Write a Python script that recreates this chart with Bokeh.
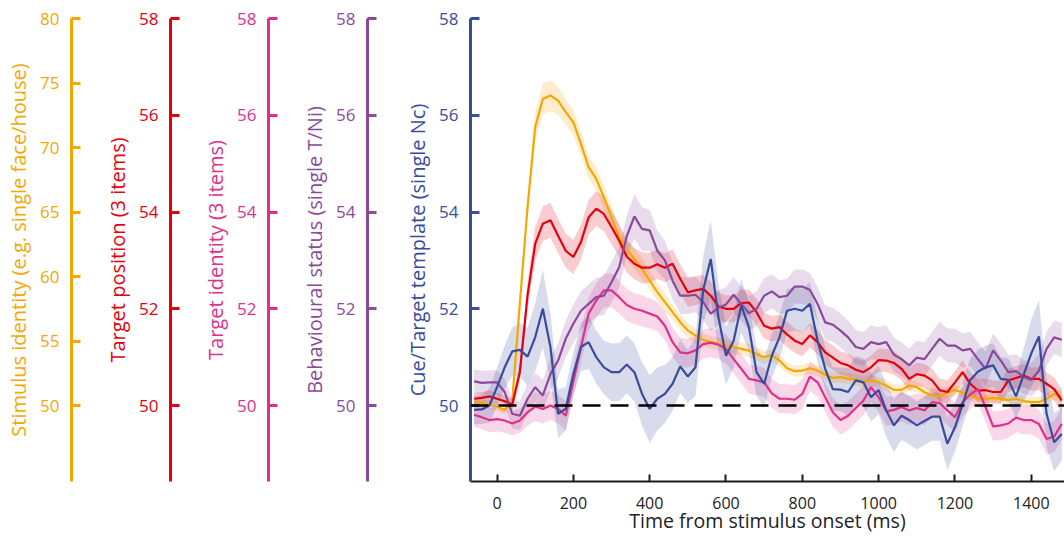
from bokeh.plotting import figure
from bokeh.models import LinearAxis, Range1d, FixedTicker, Span
from bokeh.embed import file_html
from bokeh.resources import INLINE

# ---------------- data ----------------
time_ms = list(range(-60, 1500, 20))

stim_identity = [50.26, 50.18, 50.08, 49.92, 49.66, 50.39, 58.0, 65.37, 71.58, 73.77, 74.03, 73.64, 72.74, 71.96, 70.28, 68.48, 67.57, 66.15, 64.6, 63.05, 62.1,
                 61.37, 60.59, 59.69, 58.79, 58.01, 57.24, 56.46, 55.81, 55.43, 55.09, 54.91, 54.78, 54.65, 54.52, 54.39, 54.26, 54.0, 53.75,
                 53.9, 53.49, 52.89, 52.66, 52.71, 52.89, 52.71, 52.38, 52.14, 52.2, 52.07, 51.99, 51.81, 51.94, 51.81, 51.55, 51.21, 51.21, 51.55,
                 51.42, 51.03, 50.78, 50.72, 51.0, 51.21, 51.0, 50.78, 50.54, 50.52, 50.59, 50.52, 50.44, 50.52, 50.34, 50.26, 50.26, 50.52, 50.9, 50.65]
stim_sem = [0.3, 0.3, 0.3, 0.3, 0.3, 0.4, 0.7, 0.9, 1.1, 1.2, 1.2, 1.1, 1.0, 1.0, 0.9, 0.9, 0.9, 0.9, 0.8, 0.8, 0.8,
            0.8, 0.8, 0.7, 0.7, 0.7, 0.6, 0.6, 0.6, 0.6, 0.5, 0.5, 0.5, 0.5, 0.5, 0.5, 0.5, 0.5, 0.5,
            0.45, 0.45, 0.45, 0.45, 0.45, 0.45, 0.45, 0.42, 0.42, 0.42, 0.42, 0.42, 0.42, 0.42, 0.42, 0.42, 0.42, 0.42, 0.42,
            0.42, 0.42, 0.42, 0.42, 0.42, 0.42, 0.4, 0.4, 0.4, 0.4, 0.4, 0.4, 0.4, 0.4, 0.4, 0.4, 0.4, 0.4, 0.45, 0.45]

target_position = [50.14, 50.16, 50.19, 50.14, 50.09, 50.02, 50.7, 52.28, 53.34, 53.76, 53.83, 53.51, 53.2, 53.07, 53.38, 53.89, 54.07, 53.96, 53.69, 53.41, 53.08,
                   52.93, 52.85, 52.85, 52.92, 52.85, 52.93, 52.62, 52.34, 52.38, 52.41, 52.27, 52.05, 52.0, 52.0, 52.12, 52.13, 51.93, 51.65,
                   51.59, 51.62, 51.47, 51.34, 51.27, 51.45, 51.31, 51.1, 50.99, 50.88, 50.83, 50.74, 50.69, 50.79, 50.94, 50.93, 50.88, 50.76, 50.55,
                   50.65, 50.62, 50.52, 50.32, 50.28, 50.48, 50.69, 50.45, 50.31, 50.32, 50.28, 50.28, 50.52, 50.57, 50.62, 50.55, 50.55, 50.45, 50.34, 50.1]
position_sem = [0.12, 0.12, 0.12, 0.12, 0.12, 0.12, 0.2, 0.3, 0.35, 0.36, 0.36, 0.35, 0.35, 0.35, 0.36, 0.36, 0.36, 0.35, 0.35, 0.34, 0.33,
                0.32, 0.32, 0.31, 0.3, 0.3, 0.3, 0.3, 0.3, 0.3, 0.29, 0.29, 0.28, 0.28, 0.28, 0.28, 0.27, 0.27, 0.27,
                0.26, 0.26, 0.26, 0.25, 0.25, 0.25, 0.25, 0.25, 0.25, 0.24, 0.24, 0.24, 0.24, 0.24, 0.24, 0.24, 0.24, 0.24, 0.24,
                0.24, 0.24, 0.24, 0.24, 0.24, 0.24, 0.24, 0.24, 0.24, 0.24, 0.24, 0.24, 0.24, 0.24, 0.24, 0.24, 0.24, 0.24, 0.24, 0.24]

target_identity = [49.81, 49.76, 49.7, 49.72, 49.69, 49.63, 49.69, 49.86, 49.98, 49.93, 50.0, 49.93, 49.79, 50.5, 51.21, 51.9, 52.17, 52.38, 52.38, 52.24, 52.08,
                   52.0, 51.96, 51.9, 51.84, 51.65, 51.31, 51.1, 51.08, 51.14, 51.27, 51.3, 51.26, 51.17, 50.96, 50.76, 50.55, 50.52, 50.48,
                   50.25, 50.14, 50.14, 50.12, 50.24, 50.6, 50.48, 50.17, 49.86, 49.7, 49.79, 49.95, 50.1, 50.38, 50.17, 49.88, 49.91, 49.97, 49.9,
                   49.95, 49.9, 50.07, 50.05, 49.9, 49.76, 50.07, 50.23, 50.34, 49.97, 49.57, 49.59, 49.63, 49.75, 49.7, 49.7, 49.62, 49.31, 49.36, 49.62]
identity_sem = [0.25, 0.25, 0.25, 0.25, 0.25, 0.25, 0.25, 0.28, 0.3, 0.3, 0.3, 0.3, 0.3, 0.3, 0.32, 0.34, 0.35, 0.35, 0.35, 0.34, 0.33,
                0.32, 0.32, 0.31, 0.3, 0.3, 0.3, 0.3, 0.3, 0.3, 0.3, 0.3, 0.3, 0.3, 0.3, 0.3, 0.3, 0.3, 0.3,
                0.3, 0.3, 0.3, 0.3, 0.3, 0.3, 0.3, 0.3, 0.3, 0.3, 0.3, 0.3, 0.3, 0.3, 0.3, 0.3, 0.3, 0.3, 0.3,
                0.3, 0.3, 0.3, 0.3, 0.3, 0.3, 0.3, 0.3, 0.3, 0.3, 0.3, 0.3, 0.3, 0.3, 0.3, 0.3, 0.3, 0.32, 0.32, 0.32]

behavioural_status = [50.5, 50.47, 50.48, 50.48, 50.28, 49.83, 49.79, 50.14, 50.38, 50.21, 50.65, 50.93, 51.38, 51.69, 51.96, 52.1, 52.24, 52.27, 52.55, 52.86, 53.5,
                      53.91, 53.65, 53.62, 53.2, 53.0, 52.58, 52.27, 52.27, 52.29, 52.14, 51.9, 52.02, 52.09, 52.29, 52.1, 51.91, 52.0, 52.27,
                      52.36, 52.24, 52.27, 52.46, 52.46, 52.39, 52.1, 51.72, 51.67, 51.55, 51.41, 51.21, 51.17, 51.31, 51.27, 51.31, 51.05, 50.96, 50.83,
                      50.99, 50.96, 51.17, 51.38, 51.24, 51.24, 51.14, 51.17, 50.96, 50.76, 51.14, 50.93, 50.69, 50.71, 50.59, 50.53, 50.72, 51.17, 51.41, 51.36]
status_sem = [0.25, 0.25, 0.25, 0.25, 0.28, 0.3, 0.3, 0.3, 0.3, 0.32, 0.34, 0.36, 0.38, 0.4, 0.4, 0.4, 0.4, 0.4, 0.42, 0.42, 0.42,
              0.45, 0.45, 0.42, 0.42, 0.4, 0.38, 0.38, 0.38, 0.36, 0.36, 0.36, 0.36, 0.36, 0.36, 0.36, 0.36, 0.36, 0.36,
              0.35, 0.35, 0.35, 0.35, 0.35, 0.35, 0.35, 0.35, 0.35, 0.35, 0.35, 0.35, 0.35, 0.35, 0.35, 0.35, 0.35, 0.35, 0.35,
              0.35, 0.35, 0.35, 0.35, 0.35, 0.35, 0.35, 0.35, 0.35, 0.35, 0.35, 0.35, 0.35, 0.35, 0.35, 0.35, 0.35, 0.35, 0.35, 0.35]

cue_template = [49.91, 49.92, 50.0, 50.38, 50.79, 51.12, 51.15, 51.01, 51.41, 52.0, 51.21, 49.83, 49.93, 50.65, 51.21, 51.31, 51.0, 50.79, 50.69, 50.69, 50.85,
                50.69, 50.24, 49.93, 50.14, 50.24, 50.45, 50.81, 50.6, 50.79, 52.38, 53.03, 51.83, 51.03, 51.34, 52.07, 51.62, 50.69, 50.45,
                51.03, 51.41, 51.96, 52.0, 51.96, 52.1, 51.34, 50.76, 50.34, 50.33, 50.28, 50.52, 50.48, 50.17, 50.32, 49.9, 49.59, 49.79, 49.7,
                49.59, 49.68, 49.77, 49.77, 49.21, 49.55, 50.02, 50.53, 50.7, 50.79, 50.83, 50.55, 50.53, 50.19, 50.64, 51.08, 51.43, 49.83, 49.24, 49.41]
cue_sem = [0.3, 0.3, 0.35, 0.4, 0.45, 0.5, 0.55, 0.6, 0.7, 0.8, 0.7, 0.5, 0.45, 0.45, 0.5, 0.55, 0.55, 0.55, 0.6, 0.6, 0.6,
           0.6, 0.65, 0.7, 0.65, 0.6, 0.55, 0.55, 0.55, 0.6, 0.7, 0.8, 0.7, 0.6, 0.55, 0.55, 0.5, 0.5, 0.5,
           0.45, 0.45, 0.45, 0.45, 0.45, 0.45, 0.45, 0.45, 0.45, 0.45, 0.5, 0.5, 0.5, 0.5, 0.5, 0.55, 0.55, 0.5, 0.5,
           0.5, 0.5, 0.5, 0.5, 0.55, 0.5, 0.45, 0.45, 0.45, 0.45, 0.45, 0.45, 0.45, 0.45, 0.55, 0.7, 0.75, 0.7, 0.6, 0.55]

chance_level = 50
x_ticks = [0, 200, 400, 600, 800, 1000, 1200, 1400]
nc_ticks = [50, 52, 54, 56, 58]
stim_ticks = [50, 55, 60, 65, 70, 75, 80]

# ---------------- styling ----------------
ORANGE = "#F5A700"
RED = "#E3000F"
PINK = "#E0308A"
PURPLE = "#8A4A9C"
BLUE = "#3A4B9B"
FONT = "Open Sans"

p = figure(width=1064, height=540, x_range=Range1d(-69.5, 1487), y_range=Range1d(48.43, 58),
           output_backend="svg", toolbar_location=None,
           min_border_top=18, min_border_right=0, min_border_left=470, min_border_bottom=59)
p.outline_line_color = None
p.xgrid.visible = False
p.ygrid.visible = False
p.background_fill_color = "white"

p.extra_y_ranges = {
    "orange": Range1d(44.11, 80),
    "red": Range1d(48.43, 58),
    "pink": Range1d(48.43, 58),
    "purple": Range1d(48.43, 58),
}


def style_y(ax, color, label, ticks):
    ax.axis_label = label
    ax.ticker = FixedTicker(ticks=ticks)
    ax.axis_line_color = color
    ax.axis_line_width = 3
    ax.major_tick_line_color = color
    ax.major_tick_line_width = 3
    ax.major_tick_in = 9
    ax.major_tick_out = 0
    ax.minor_tick_line_color = None
    ax.major_label_text_color = color
    ax.major_label_text_font = FONT
    ax.major_label_text_font_size = "17px"
    ax.major_label_standoff = 12
    ax.axis_label_text_color = color
    ax.axis_label_text_font = FONT
    ax.axis_label_text_font_size = "20px"
    ax.axis_label_text_font_style = "normal"
    ax.axis_label_standoff = 5


def spacer(width, rng, tick):
    # an empty axis whose only (white, outward) tick keeps a gap between two coloured axes
    return LinearAxis(y_range_name=rng, ticker=FixedTicker(ticks=[tick]), axis_line_color=None,
                      major_tick_line_color="white", major_tick_line_width=1, minor_tick_line_color=None,
                      major_tick_out=width, major_tick_in=0, major_label_overrides={tick: ""},
                      major_label_standoff=0)


style_y(p.yaxis[0], BLUE, "Cue/Target template (single Nc)", nc_ticks)

p.add_layout(spacer(34, "purple", 57), "left")
ax_purple = LinearAxis(y_range_name="purple")
style_y(ax_purple, PURPLE, "Behavioural status (single T/Ni)", nc_ticks)
p.add_layout(ax_purple, "left")

p.add_layout(spacer(30, "pink", 57), "left")
ax_pink = LinearAxis(y_range_name="pink")
style_y(ax_pink, PINK, "Target identity (3 items)", nc_ticks)
p.add_layout(ax_pink, "left")

p.add_layout(spacer(29, "red", 57), "left")
ax_red = LinearAxis(y_range_name="red")
style_y(ax_red, RED, "Target position (3 items)", nc_ticks)
p.add_layout(ax_red, "left")

p.add_layout(spacer(30, "orange", 77.5), "left")
ax_orange = LinearAxis(y_range_name="orange")
style_y(ax_orange, ORANGE, "Stimulus identity (e.g. single face/house)", stim_ticks)
p.add_layout(ax_orange, "left")

xa = p.xaxis[0]
xa.ticker = FixedTicker(ticks=x_ticks)
xa.axis_label = "Time from stimulus onset (ms)"
xa.axis_line_color = "#1a1a1a"
xa.axis_line_width = 2
xa.major_tick_line_color = "#1a1a1a"
xa.major_tick_line_width = 2
xa.major_tick_in = 7
xa.major_tick_out = 0
xa.minor_tick_line_color = None
xa.major_label_text_font = FONT
xa.major_label_text_font_size = "16px"
xa.major_label_text_color = "#222222"
xa.major_label_standoff = 15
xa.axis_label_text_font = FONT
xa.axis_label_text_font_size = "19.5px"
xa.axis_label_text_font_style = "normal"
xa.axis_label_text_color = "#222222"
xa.axis_label_standoff = -5

series = [
    (stim_identity, stim_sem, ORANGE, "orange"),
    (target_position, position_sem, RED, "red"),
    (target_identity, identity_sem, PINK, "pink"),
    (behavioural_status, status_sem, PURPLE, "purple"),
    (cue_template, cue_sem, BLUE, "default"),
]

for mean, sem, color, rng in series:
    lo = [m - s for m, s in zip(mean, sem)]
    hi = [m + s for m, s in zip(mean, sem)]
    p.varea(x=time_ms, y1=lo, y2=hi, fill_color=color, fill_alpha=0.2, y_range_name=rng)

for mean, sem, color, rng in series:
    p.line(x=time_ms, y=mean, line_color=color, line_width=2.2, y_range_name=rng)

p.add_layout(Span(location=chance_level, dimension="width", line_color="black",
                  line_width=2.5, line_dash="18 10"))

open("out.html", "w").write(file_html(p, INLINE))
